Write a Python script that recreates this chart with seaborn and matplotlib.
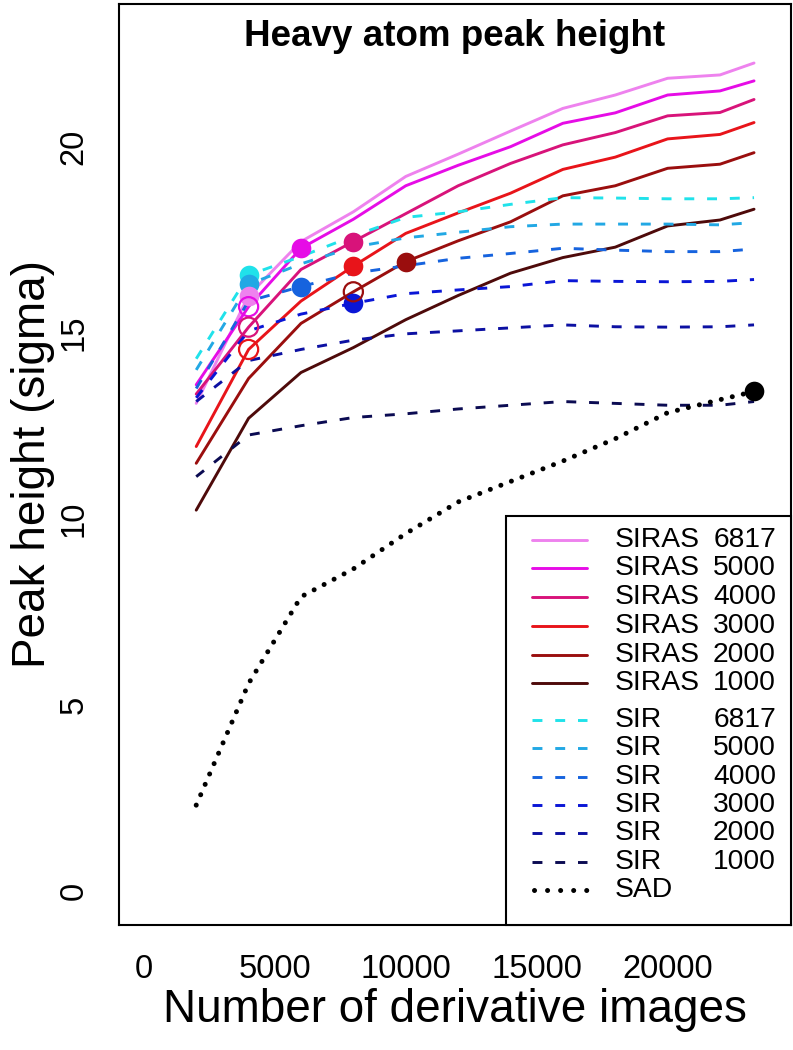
import numpy as np
import pandas as pd
import matplotlib
matplotlib.use("Agg")
import matplotlib.pyplot as plt
import seaborn as sns
from matplotlib.patches import Rectangle
from matplotlib.lines import Line2D

# ---------------- data ----------------
n_images = [2000, 4000, 6000, 8000, 10000, 12000, 14000, 16000, 18000, 20000, 22000, 23300]

siras_6817 = [13.1, 16.0, 17.45, 18.25, 19.2, 19.8, 20.42, 21.03, 21.39, 21.84, 21.93, 22.25]
siras_5000 = [13.6, 15.7, 17.27, 18.05, 18.95, 19.5, 20.0, 20.63, 20.91, 21.39, 21.5, 21.77]
siras_4000 = [13.35, 15.15, 16.7, 17.45, 18.2, 18.95, 19.55, 20.05, 20.38, 20.83, 20.92, 21.27]
siras_3000 = [11.94, 14.55, 15.85, 16.79, 17.67, 18.22, 18.75, 19.39, 19.72, 20.21, 20.33, 20.65]
siras_2000 = [11.49, 13.77, 15.25, 16.1, 16.91, 17.47, 17.98, 18.68, 18.95, 19.42, 19.53, 19.84]
siras_1000 = [10.23, 12.7, 13.93, 14.6, 15.35, 16.0, 16.6, 17.02, 17.3, 17.87, 18.03, 18.32]

sir_6817 = [14.3, 16.55, 17.05, 17.6, 18.1, 18.25, 18.45, 18.63, 18.62, 18.6, 18.6, 18.63]
sir_5000 = [14.0, 16.3, 16.85, 17.3, 17.55, 17.7, 17.85, 17.92, 17.92, 17.92, 17.9, 17.96]
sir_4000 = [13.5, 15.85, 16.24, 16.6, 16.8, 17.0, 17.13, 17.27, 17.22, 17.18, 17.18, 17.25]
sir_3000 = [13.25, 15.05, 15.5, 15.79, 16.05, 16.15, 16.24, 16.4, 16.38, 16.37, 16.38, 16.43]
sir_2000 = [13.15, 14.25, 14.55, 14.8, 14.97, 15.05, 15.13, 15.21, 15.16, 15.15, 15.16, 15.21]
sir_1000 = [11.13, 12.25, 12.5, 12.72, 12.82, 12.95, 13.05, 13.15, 13.1, 13.05, 13.05, 13.15]

sad = [2.3, 5.57, 7.9, 8.65, 9.6, 10.45, 11.0, 11.55, 12.15, 12.85, 13.2, 13.42]

siras_labels = ["SIRAS 6817", "SIRAS 5000", "SIRAS 4000", "SIRAS 3000", "SIRAS 2000", "SIRAS 1000"]
sir_labels = ["SIR 6817", "SIR 5000", "SIR 4000", "SIR 3000", "SIR 2000", "SIR 1000"]
siras_colors = ["#EE82EE", "#E60CE6", "#D8137A", "#E8141A", "#9A0E0E", "#4E0A0A"]
sir_colors = ["#20E2EA", "#22A8E4", "#1663DE", "#0A16D6", "#0C10A2", "#0B0B52"]
sad_color = "#000000"

# filled markers (series, x) and open markers (series, x)
filled_pts = [("SIR 6817", 4000), ("SIR 5000", 4000), ("SIRAS 6817", 4000),
              ("SIRAS 5000", 6000), ("SIR 4000", 6000), ("SIRAS 4000", 8000),
              ("SIRAS 3000", 8000), ("SIR 3000", 8000), ("SIRAS 2000", 10000),
              ("SAD", 23300)]
open_pts = [("SIRAS 5000", 4000), ("SIRAS 4000", 4000), ("SIRAS 3000", 4000),
            ("SIRAS 2000", 8000)]

series = dict(zip(siras_labels, [siras_6817, siras_5000, siras_4000, siras_3000, siras_2000, siras_1000]))
series.update(dict(zip(sir_labels, [sir_6817, sir_5000, sir_4000, sir_3000, sir_2000, sir_1000])))
series["SAD"] = sad
palette = dict(zip(siras_labels, siras_colors))
palette.update(dict(zip(sir_labels, sir_colors)))
palette["SAD"] = sad_color

rows = []
for name, vals in series.items():
    for xv, yv in zip(n_images, vals):
        rows.append((name, xv, yv))
df = pd.DataFrame(rows, columns=["series", "x", "y"])

def pts_frame(lst):
    out = []
    for name, xv in lst:
        out.append((name, xv, series[name][n_images.index(xv)]))
    return pd.DataFrame(out, columns=["series", "x", "y"])

# ---------------- figure ----------------
sns.set_style("white")
plt.rcParams["font.family"] = ["Liberation Sans", "DejaVu Sans"]

W, H = 793, 1050
fig = plt.figure(figsize=(W / 100, H / 100), dpi=100)
L, R, T, B = 118.7, 790.7, 3.5, 924.7
ax = fig.add_axes([L / W, (H - B) / H, (R - L) / W, (B - T) / H])

lw = 2.1
d_siras = df[df.series.isin(siras_labels)]
sns.lineplot(data=d_siras, x="x", y="y", hue="series", hue_order=siras_labels,
             palette=palette, linewidth=lw, legend=False, ax=ax, estimator=None,
             sort=False)
d_sir = df[df.series.isin(sir_labels)]
sns.lineplot(data=d_sir, x="x", y="y", hue="series", hue_order=sir_labels,
             style="series", dashes={k: (3.4, 4.4) for k in sir_labels},
             palette=palette, linewidth=lw, legend=False, ax=ax, estimator=None,
             sort=False)
d_sad = df[df.series == "SAD"]
sns.lineplot(data=d_sad, x="x", y="y", color=sad_color, linewidth=3.6,
             legend=False, ax=ax, estimator=None, sort=False)
sad_line = ax.lines[-1]
sad_line.set_dashes((0.01, 2.25))
sad_line.set_dash_capstyle("round")

fp = pts_frame(filled_pts)
for _, r in fp.iterrows():
    sns.scatterplot(x=[r.x], y=[r.y], color=palette[r.series], s=200,
                    linewidth=0, ax=ax, legend=False, zorder=5)
op = pts_frame(open_pts)
for _, r in op.iterrows():
    sns.scatterplot(x=[r.x], y=[r.y], s=190, marker="o", facecolors="none",
                    edgecolor=palette[r.series], linewidth=1.6, ax=ax,
                    legend=False, zorder=5)

ax.set_xlim(-960, 24700)
ax.set_ylim(-0.914, 23.85)
ax.set_xticks([0, 5000, 10000, 15000, 20000])
ax.set_yticks([0, 5, 10, 15, 20])
ax.tick_params(axis="both", direction="out", length=12.5, width=1.4,
               labelsize=23.5, pad=8.5, color="black", labelcolor="black")
for lab in ax.get_yticklabels():
    lab.set_rotation(90)
    lab.set_va("center")
for sp in ax.spines.values():
    sp.set_visible(True)
    sp.set_color("black")
    sp.set_linewidth(1.5)
ax.set_xlabel("")
ax.set_ylabel("")

fig.text(33 / W, 1 - 464 / H, "Peak height (sigma)", rotation=90,
         ha="center", va="center", fontsize=33, color="black")
fig.text(454.7 / W, 1 - 1010 / H, "Number of derivative images",
         ha="center", va="center", fontsize=33, color="black")
ax.text(0.5, (B - 46) / (B - T), "Heavy atom peak height", transform=ax.transAxes,
        ha="center", va="baseline", fontsize=26.5, fontweight="bold", color="black")

# ---------------- legend ----------------
def fx(px):
    return (px - L) / (R - L)

def fy(py):
    return (B - py) / (B - T)

box_l, box_t = 506, 516
ax.add_patch(Rectangle((fx(box_l), 0), 1 - fx(box_l), fy(box_t),
                       transform=ax.transAxes, facecolor="white",
                       edgecolor="black", linewidth=1.5, zorder=10,
                       clip_on=False))
rows_y = [540, 568.3, 597.3, 626, 655, 683.3, 720, 748.3, 776.7, 805, 833.3, 861.7, 890]
legend_names = siras_labels + sir_labels + ["SAD"]
lx0, lx1 = fx(531.7), fx(587.3)
txt_l, txt_r = fx(615), fx(776)
for name, py in zip(legend_names, rows_y):
    col = palette[name]
    if name in siras_labels:
        ln = Line2D([lx0, lx1], [fy(py)] * 2, color=col, lw=lw, transform=ax.transAxes)
    elif name in sir_labels:
        ln = Line2D([lx0, lx1], [fy(py)] * 2, color=col, lw=lw, transform=ax.transAxes,
                    dashes=(3.4, 4.4))
    else:
        ln = Line2D([lx0 + 0.004, lx1], [fy(py)] * 2, color=col, lw=3.6,
                    transform=ax.transAxes, dashes=(0.01, 2.6),
                    dash_capstyle="round")
    ln.set_zorder(11)
    ax.add_line(ln)
    parts = name.split(" ")
    ax.text(txt_l, fy(py), parts[0], transform=ax.transAxes, ha="left",
            va="center", fontsize=20.3, zorder=12, color="black")
    if len(parts) > 1:
        ax.text(txt_r, fy(py), parts[1], transform=ax.transAxes, ha="right",
                va="center", fontsize=20.3, zorder=12, color="black")

fig.savefig("out.png", dpi=100)
